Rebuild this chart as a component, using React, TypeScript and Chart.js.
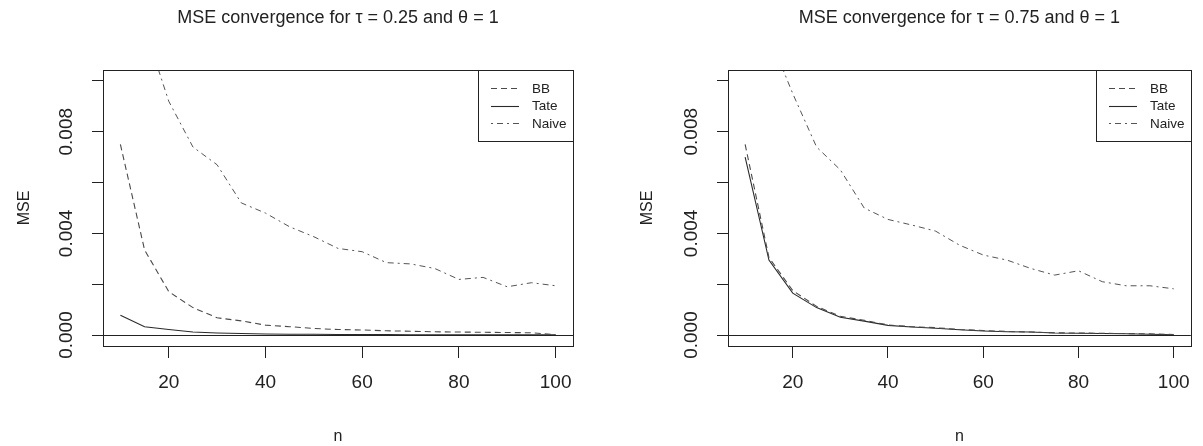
import React, { useEffect, useRef } from 'react';
import { Chart, registerables } from 'chart.js';

Chart.register(...registerables);

// ---------- data ----------
const nValues = [10, 15, 20, 25, 30, 35, 40, 45, 50, 55, 60, 65, 70, 75, 80, 85, 90, 95, 100];

const seriesNames = ['BB', 'Tate', 'Naive'];

// tau = 0.25
const bbTau025 = [0.0075, 0.00335, 0.00171, 0.00108, 0.00068, 0.00056, 0.00039, 0.00033, 0.00026, 0.00022, 0.0002, 0.00017, 0.00015, 0.00013, 0.00012, 0.00011, 0.0001, 0.00009, 0.00002];
const tateTau025 = [0.00078, 0.00033, 0.00022, 0.00012, 0.00008, 0.00006, 0.00004, 0.000035, 0.00003, 0.000025, 0.00002, 0.00002, 0.000015, 0.00001, 0.00001, 0.00001, 0.00001, 0.00001, 0.00001];
const naiveTau025 = [0.02, 0.0121, 0.0092, 0.0074, 0.0067, 0.0052, 0.0048, 0.00426, 0.00387, 0.00341, 0.00328, 0.00285, 0.0028, 0.00262, 0.00219, 0.00227, 0.0019, 0.00206, 0.00194];

// tau = 0.75
const bbTau075 = [0.0075, 0.00305, 0.00175, 0.00113, 0.00074, 0.00058, 0.0004, 0.00033, 0.00029, 0.00022, 0.00018, 0.00014, 0.00012, 0.00009, 0.00008, 0.00007, 0.00006, 0.00005, 0.00002];
const tateTau075 = [0.007, 0.00295, 0.00165, 0.00108, 0.0007, 0.00055, 0.00038, 0.00032, 0.00027, 0.00021, 0.00016, 0.00013, 0.00012, 0.00008, 0.00007, 0.00006, 0.00005, 0.00003, 0.00001];
const naiveTau075 = [0.022, 0.0118, 0.0095, 0.0074, 0.0065, 0.005, 0.00455, 0.00433, 0.00409, 0.00354, 0.00315, 0.00295, 0.00262, 0.00236, 0.00253, 0.0021, 0.00194, 0.00194, 0.00182];

const xTicks = [20, 40, 60, 80, 100];
const yTicks = [0, 0.002, 0.004, 0.006, 0.008, 0.01];
const xRange = [6.4, 103.6];
const yRange = [-0.00043, 0.01043];

const titles = [
  'MSE convergence for \u03C4 = 0.25 and \u03B8 = 1',
  'MSE convergence for \u03C4 = 0.75 and \u03B8 = 1',
];

// ---------- styling ----------
const FONT = '"Liberation Sans", Arial, Helvetica, sans-serif';
const INK = '#222';
const lineStyles = [
  { color: '#4a4a4a', dash: [6, 4], width: 1.1 },
  { color: '#2a2a2a', dash: [], width: 1.1 },
  { color: '#555555', dash: [2, 4, 6, 4], width: 1 },
];

const H = 446;
const AREA_TOP = 70;
const AREA_BOTTOM = 346;

const framePlugin = {
  id: 'rFrame',
  afterDatasetsDraw(chart: any) {
    const { ctx, chartArea: a, scales } = chart;
    const y0 = Math.round(scales.y.getPixelForValue(0)) + 0.5;
    ctx.save();
    ctx.strokeStyle = INK;
    ctx.lineWidth = 1;
    ctx.setLineDash([]);
    ctx.beginPath();
    ctx.moveTo(a.left, y0);
    ctx.lineTo(a.right, y0);
    ctx.stroke();
    ctx.strokeRect(Math.round(a.left) + 0.5, Math.round(a.top) + 0.5, Math.round(a.right - a.left), Math.round(a.bottom - a.top));
    ctx.restore();
  },
};

const legendPlugin = {
  id: 'rLegend',
  afterDraw(chart: any) {
    const { ctx, chartArea: a } = chart;
    const w = 95;
    const h = 71;
    const x0 = Math.round(a.right - w);
    const y0 = Math.round(a.top);
    ctx.save();
    ctx.fillStyle = '#fff';
    ctx.fillRect(x0, y0, w, h);
    ctx.strokeStyle = INK;
    ctx.lineWidth = 1;
    ctx.strokeRect(x0 + 0.5, y0 + 0.5, w, h);
    chart.data.datasets.forEach((ds: any, i: number) => {
      const y = y0 + 18 + i * 17.5;
      ctx.setLineDash(ds.borderDash || []);
      ctx.strokeStyle = ds.borderColor;
      ctx.lineWidth = ds.borderWidth;
      ctx.beginPath();
      ctx.moveTo(x0 + 13, Math.round(y) + 0.5);
      ctx.lineTo(x0 + 41, Math.round(y) + 0.5);
      ctx.stroke();
      ctx.setLineDash([]);
      ctx.fillStyle = INK;
      ctx.font = `13.5px ${FONT}`;
      ctx.textBaseline = 'middle';
      ctx.textAlign = 'left';
      ctx.fillText(ds.label, x0 + 54, y + 1);
    });
    ctx.restore();
  },
};

type PanelProps = {
  left: number;
  width: number;
  areaLeft: number;
  areaRight: number;
  yTitleX: number;
  title: string;
  series: number[][];
};

function Panel({ left, width, areaLeft, areaRight, yTitleX, title, series }: PanelProps) {
  const ref = useRef<HTMLCanvasElement | null>(null);

  useEffect(() => {
    if (!ref.current) return;
    const datasets = series.map((vals, i) => ({
      label: seriesNames[i],
      data: nValues.map((n, k) => ({ x: n, y: vals[k] })),
      borderColor: lineStyles[i].color,
      borderDash: lineStyles[i].dash,
      borderWidth: lineStyles[i].width,
      pointRadius: 0,
      fill: false,
      tension: 0,
      clip: 0,
    }));

    const chart = new Chart(ref.current, {
      type: 'line',
      data: { datasets },
      plugins: [framePlugin, legendPlugin],
      options: {
        animation: false,
        responsive: false,
        events: [],
        layout: { padding: { left: 0, right: width - areaRight, top: 0, bottom: 0 } },
        plugins: {
          legend: { display: false },
          tooltip: { enabled: false },
          title: {
            display: true,
            text: title,
            fullSize: false,
            color: INK,
            font: { family: FONT, size: 18, weight: 'normal', lineHeight: 1.2 },
            padding: { top: 7.2, bottom: AREA_TOP - 7.2 - 21.6 },
          },
        },
        scales: {
          x: {
            type: 'linear',
            min: xRange[0],
            max: xRange[1],
            afterBuildTicks: (s: any) => {
              s.ticks = xTicks.map((v) => ({ value: v }));
            },
            afterFit: (s: any) => {
              s.height = H - AREA_BOTTOM;
            },
            grid: { drawOnChartArea: false, drawTicks: true, tickLength: 12, color: INK, lineWidth: 1 },
            border: { display: false },
            ticks: {
              color: INK,
              font: { family: FONT, size: 19 },
              padding: 13,
              autoSkip: false,
              maxRotation: 0,
              minRotation: 0,
            },
            title: {
              display: true,
              text: 'n',
              color: INK,
              font: { family: FONT, size: 16 },
              padding: { top: 0, bottom: 0 },
            },
          },
          y: {
            type: 'linear',
            min: yRange[0],
            max: yRange[1],
            afterBuildTicks: (s: any) => {
              s.ticks = yTicks.map((v) => ({ value: v }));
            },
            afterFit: (s: any) => {
              s.width = areaLeft;
            },
            grid: { drawOnChartArea: false, drawTicks: true, tickLength: 11, color: INK, lineWidth: 1 },
            border: { display: false },
            ticks: {
              color: INK,
              font: { family: FONT, size: 19 },
              minRotation: 90,
              maxRotation: 90,
              crossAlign: 'center',
              padding: 1,
              autoSkip: false,
              callback: (v: any) => (Math.round(Number(v) * 1000) % 4 === 0 ? Number(v).toFixed(3) : ''),
            },
            title: {
              display: true,
              text: 'MSE',
              color: INK,
              font: { family: FONT, size: 16 },
              padding: { top: yTitleX - 9.6, bottom: 0 },
            },
          },
        },
      } as any,
    });
    return () => chart.destroy();
  }, []);

  return (
    <canvas
      ref={ref}
      width={width}
      height={H}
      style={{ position: 'absolute', left, top: 0, width, height: H }}
    />
  );
}

export default function App() {
  return (
    <div style={{ position: 'absolute', left: 0, top: 0, width: 1203, height: H, background: '#fff', overflow: 'hidden' }}>
      <Panel
        left={0}
        width={600}
        areaLeft={103}
        areaRight={573}
        yTitleX={25}
        title={titles[0]}
        series={[bbTau025, tateTau025, naiveTau025]}
      />
      <Panel
        left={600}
        width={603}
        areaLeft={128}
        areaRight={596}
        yTitleX={48}
        title={titles[1]}
        series={[bbTau075, tateTau075, naiveTau075]}
      />
    </div>
  );
}
